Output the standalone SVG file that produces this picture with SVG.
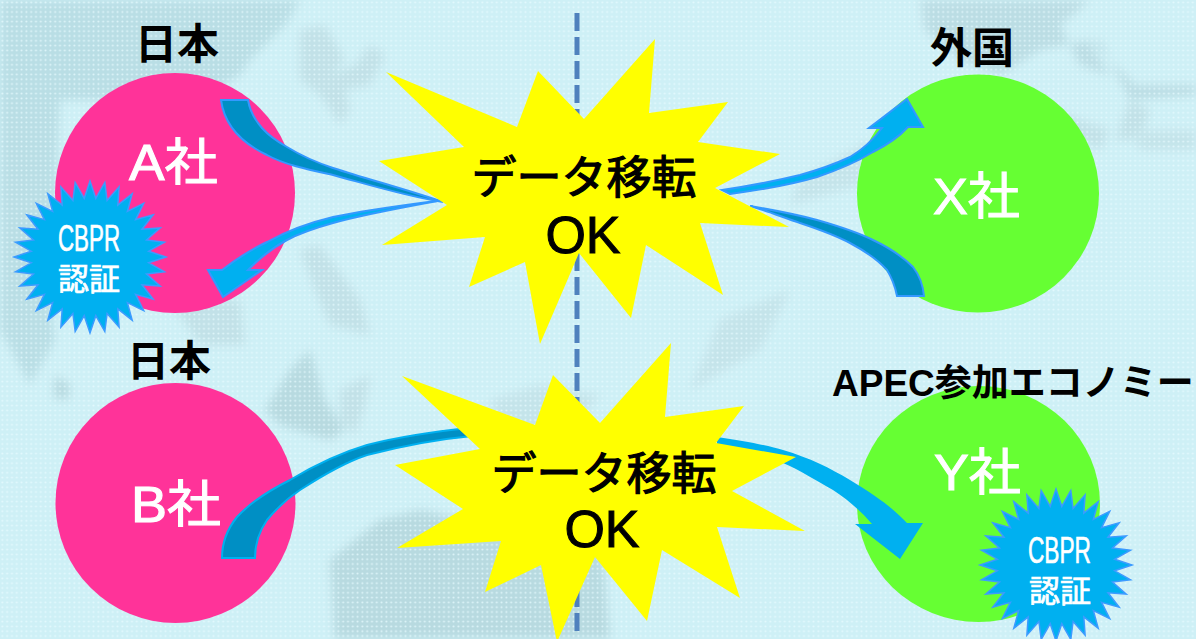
<svg xmlns="http://www.w3.org/2000/svg" width="1196" height="639" viewBox="0 0 1196 639">
<style>
.jp{font-family:"Liberation Sans","Noto Sans CJK JP",sans-serif}
.lbl{font-size:42px;font-weight:700;fill:#000}
.co{font-size:50px;fill:#fff;stroke:#fff;stroke-width:1}
.ok{font-size:45px;fill:#000;stroke:#000;stroke-width:1.2;text-anchor:middle}
.ok2{font-size:52px;fill:#000;stroke:#000;stroke-width:1;text-anchor:middle}
.cb{fill:#fff;stroke:#fff;stroke-width:.7}
.cb1{font-size:36px}
.cb2{font-size:31px}
.pink{fill:#ff3399}.green{fill:#66ff33}.burst{fill:#ffff00}
.dark{fill:#008fc4;stroke:#3399ff;stroke-width:2}
.dark2{fill:#008fc4;stroke:#00b0f0;stroke-width:2}
.lite{fill:#00b0f0;stroke:#3399ff;stroke-width:2}
.seal{fill:#00b0f0;stroke:#3d9bff;stroke-width:1.5}
</style>
<defs>
<pattern id="dots" width="4.8" height="4.8" patternUnits="userSpaceOnUse"><rect width="4.8" height="4.8" fill="#dff6fb" fill-opacity=".1"/><circle cx="2.4" cy="2.4" r="1" fill="#e8fbff" fill-opacity=".8"/></pattern>
<filter id="soft" x="-15%" y="-15%" width="130%" height="130%"><feGaussianBlur stdDeviation="5"/></filter>
<polygon id="seal" points="76,0 58.7,5.8 74.5,14.8 56.5,17.1 70.2,29.1 52,27.8 63.2,42.2 45.6,37.4 53.7,53.7 37.4,45.6 42.2,63.2 27.8,52 29.1,70.2 17.1,56.5 14.8,74.5 5.8,58.7 0,76 -5.8,58.7 -14.8,74.5 -17.1,56.5 -29.1,70.2 -27.8,52 -42.2,63.2 -37.4,45.6 -53.7,53.7 -45.6,37.4 -63.2,42.2 -52,27.8 -70.2,29.1 -56.5,17.1 -74.5,14.8 -58.7,5.8 -76,0 -58.7,-5.8 -74.5,-14.8 -56.5,-17.1 -70.2,-29.1 -52,-27.8 -63.2,-42.2 -45.6,-37.4 -53.7,-53.7 -37.4,-45.6 -42.2,-63.2 -27.8,-52 -29.1,-70.2 -17.1,-56.5 -14.8,-74.5 -5.8,-58.7 0,-76 5.8,-58.7 14.8,-74.5 17.1,-56.5 29.1,-70.2 27.8,-52 42.2,-63.2 37.4,-45.6 53.7,-53.7 45.6,-37.4 63.2,-42.2 52,-27.8 70.2,-29.1 56.5,-17.1 74.5,-14.8 58.7,-5.8"/>
</defs>
<g id="background">
<rect width="1196" height="639" fill="#cdeff6"/>
<g filter="url(#soft)" fill="#b4d7de">
<path d="M0,0H300L285,25L250,60L240,75L200,100H60L50,300L55,340L30,385L0,330Z" fill="#b6dbe3"/>
<path d="M300,30L325,25L345,60L330,75L355,65L370,45L385,55L370,85L345,90L350,110L340,125L320,95L300,80Z" fill="#bfdfe6"/>
<path d="M55,375L70,385L68,400L54,398Z"/>
<path d="M170,300L240,300L245,345L200,345Z" fill="#bfdfe6"/>
<path d="M265,410L290,370L310,350L325,400L345,430L330,440L280,425Z"/>
<path d="M340,390L370,375L365,405L355,435L340,420Z" fill="#bfdfe6"/>
<path d="M300,250L320,245L360,300L370,335L330,325L315,290Z" fill="#bfdfe6"/>
<path d="M330,560L380,520L420,510L470,520L600,520L610,639H335Z"/>
<path d="M490,400L540,385L600,395L560,440L500,430Z" fill="#c2e2e9"/>
<path d="M720,320L790,290L760,350L690,390Z" fill="#c2e2e9"/>
<path d="M920,0H1090L1060,25L1080,65L1110,75L1090,45L1100,40L1130,100L1196,95V85L1135,85L1110,60L1090,40L1040,50L1000,75L960,60L925,30Z" fill="#b8dae2"/>
<path d="M1130,100L1150,110L1140,140L1115,140Z" fill="#bfdfe6"/>
<path d="M1050,110L1110,130L1100,150L1060,130Z" fill="#bfdfe6"/>
<path d="M800,180L870,140L860,185L790,205Z" fill="#c2e2e9"/>
<path d="M1130,130H1196V150H1140Z" fill="#c2e2e9"/>
</g>
<rect width="1196" height="639" fill="url(#dots)"/>
</g>
<g id="divider"><line x1="577" y1="13" x2="577" y2="633" stroke="#4f81bd" stroke-width="5" stroke-dasharray="18 6"/></g>
<g id="node-a"><circle class="pink" cx="175" cy="193" r="120"/><text class="jp co" x="129" y="180" textLength="89" lengthAdjust="spacingAndGlyphs">A社</text></g>
<g id="node-x"><ellipse class="green" cx="978" cy="193.5" rx="121" ry="119"/><text class="jp co" x="933" y="214" textLength="87" lengthAdjust="spacingAndGlyphs">X社</text></g>
<g id="node-b"><circle class="pink" cx="175.500" cy="503" r="120"/><text class="jp co" x="131" y="522" textLength="90" lengthAdjust="spacingAndGlyphs">B社</text></g>
<g id="node-y"><ellipse class="green" cx="978.500" cy="504" rx="121.500" ry="118"/><text class="jp co" x="934" y="490" textLength="87" lengthAdjust="spacingAndGlyphs">Y社</text></g>
<g id="connectors">
<path class="dark" d="M248,100C250,112 255,120 262,128C270,137 280,143 287,147C300,155 315,162 333,168C370,180 405,189 443,202C405,196 370,185 333,175C310,170 285,165 267,155C248,146 225,130 221,100Z"/>
<path class="lite" d="M443,200C405,205 365,210 333,217C308,223 285,232 267,242C250,250 235,260 222,270H208L223,297L262,270H248C258,260 272,248 287,240C300,233 315,228 333,223C365,214 405,207 443,200Z"/>
<path class="lite" d="M722,190C750,186 775,181 800,175C818,170 835,164 850,157C862,150 873,140 882,128H869L907,99L923,127H908C898,138 887,145 873,152C855,163 835,171 817,177C790,185 760,190 730,194Z"/>
<path class="dark" d="M750,206C773,210 795,214 817,220C838,226 857,232 873,240C890,248 903,257 913,267C920,276 923,285 924,296H897C895,286 892,278 887,270C878,260 865,251 850,243C835,235 818,229 800,223C788,219 775,214 763,210Z"/>
<path class="dark2" d="M222,558C222,542 228,528 237,517C250,503 270,490 290,480C315,465 340,453 367,445C398,437 430,432 470,428L472,436C430,440 398,447 367,455C343,463 320,477 300,490C288,498 277,508 267,520C260,530 255,543 255,558Z"/>
<path d="M717,437C745,441 770,446 783,450C810,458 830,468 850,480C875,495 893,508 907,523H923L900,559L855,524H872C860,510 848,500 833,490C815,480 800,470 783,463C760,455 740,450 717,445Z" fill="#00b0f0"/>
</g>
<g id="burst-1"><polygon class="burst" points="386,72 517,127 538,71 584,119 655,39 649,113 728,102 698,142 780,154 715,188 789,227 700,223 723,295 646,245 631,318 579,253 540,344 525,262 469,287 485,237 382,245 447,205 379,161 464,147"/><text class="jp ok" x="584" y="194">データ移転</text><text class="jp ok2" x="583" y="253">OK</text></g>
<g id="burst-2"><polygon class="burst" points="402,376 535,425 553,375 600,423 671,343 665,417 744,406 716,443 796,457 732,491 805,531 717,527 740,598 662,550 647,621 595,557 557,642 541,565 485,592 501,541 397,548 463,509 395,465 480,449"/><text class="jp ok" x="604" y="490">データ移転</text><text class="jp ok2" x="602" y="547">OK</text></g>
<g id="seal-1"><use href="#seal" x="90" y="257" class="seal"/><text class="jp cb cb1" x="58" y="251" textLength="62" lengthAdjust="spacingAndGlyphs">CBPR</text><text class="jp cb cb2" x="58" y="290" textLength="62" lengthAdjust="spacingAndGlyphs">認証</text></g>
<g id="seal-2"><use href="#seal" x="1056" y="565" class="seal"/><text class="jp cb cb1" x="1028" y="563" textLength="63" lengthAdjust="spacingAndGlyphs">CBPR</text><text class="jp cb cb2" x="1029" y="602" textLength="62" lengthAdjust="spacingAndGlyphs">認証</text></g>
<g id="labels">
<text class="jp lbl" x="135" y="59">日本</text>
<text class="jp lbl" x="930" y="63">外国</text>
<text class="jp lbl" x="127" y="376">日本</text>
<text class="jp lbl" style="font-size:37px" x="832" y="396">APEC参加エコノミー</text>
</g>
</svg>
